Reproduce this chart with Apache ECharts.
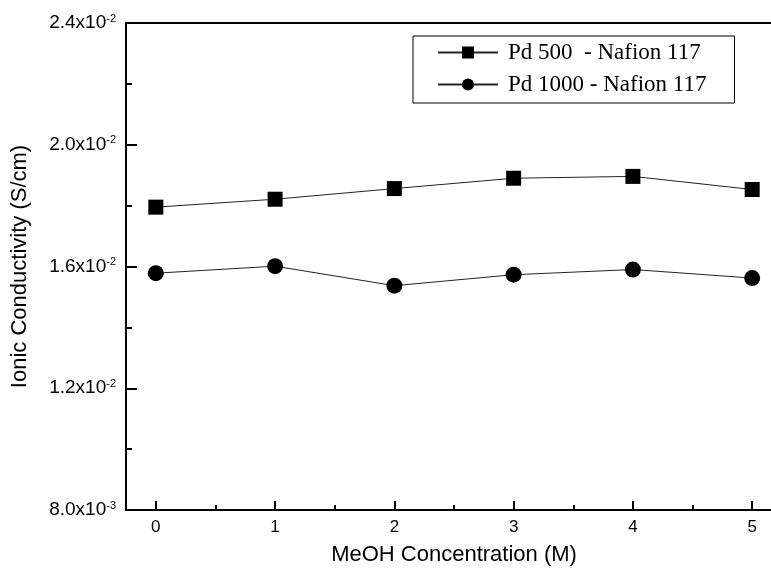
<!DOCTYPE html>
<html><head><meta charset="utf-8">
<script src="https://cdn.jsdelivr.net/npm/echarts@6/dist/echarts.min.js"></script>
<style>html,body{margin:0;padding:0;background:#fff}#c{width:771px;height:575px}</style>
</head><body><div id="c"></div>
<script>
const concentrations = [0, 1, 2, 3, 4, 5];
const pd500 = [0.01795, 0.01821, 0.01856, 0.0189, 0.01896, 0.01853];
const pd1000 = [0.01578, 0.01601, 0.01537, 0.01573, 0.0159, 0.01562];
const seriesNames = ['Pd 500  - Nafion 117', 'Pd 1000 - Nafion 117'];
const xMajorTicks = [0, 1, 2, 3, 4, 5];
const xMinorTicks = [0.5, 1.5, 2.5, 3.5, 4.5];

const chart = echarts.init(document.getElementById('c'));
function yFmt(v) {
  const e = Math.floor(Math.log10(v) + 1e-9);
  const m = v / Math.pow(10, e);
  return '{a|' + m.toFixed(1) + 'x10}{s|' + e + '}';
}
const sans = 'Liberation Sans, Arial, sans-serif';
chart.setOption({
  animation: false,
  grid: { left: 126, top: 23, bottom: 65, right: -11, show: true, borderColor: '#000', borderWidth: 2, outerBoundsMode: 'none' },
  legend: {
    orient: 'vertical', left: 413, top: 36,
    itemWidth: 60, itemHeight: 15, itemGap: 9,
    padding: [5, 28, 7, 24],
    borderColor: '#000', borderWidth: 1,
    textStyle: { fontFamily: 'Liberation Serif, Times New Roman, serif', fontSize: 23, color: '#000', padding: [0, 0, 0, 5] },
    data: seriesNames
  },
  xAxis: [{
    type: 'value', min: -0.25, max: 5.25,
    name: 'MeOH Concentration (M)', nameLocation: 'middle', nameGap: 34,
    nameTextStyle: { fontFamily: sans, fontSize: 22, color: '#000' },
    axisLine: { onZero: false, lineStyle: { color: '#000', width: 2 } },
    axisTick: { inside: true, length: 9, lineStyle: { width: 2, color: '#000' }, customValues: xMajorTicks },
    axisLabel: { customValues: xMajorTicks, fontFamily: sans, fontSize: 17, color: '#000', margin: 9 },
    splitLine: { show: false }
  }, {
    type: 'value', min: -0.25, max: 5.25, position: 'bottom',
    axisLine: { show: false, onZero: false },
    axisTick: { inside: true, length: 5, lineStyle: { width: 2, color: '#000' }, customValues: xMinorTicks },
    axisLabel: { show: false },
    splitLine: { show: false }
  }],
  yAxis: {
    type: 'value', min: 0.008, max: 0.024, interval: 0.004,
    name: 'Ionic Conductivity (S/cm)', nameLocation: 'middle', nameGap: 95,
    nameTextStyle: { fontFamily: sans, fontSize: 22, color: '#000' },
    axisLine: { show: true, onZero: false, lineStyle: { color: '#000', width: 2 } },
    axisTick: { inside: true, length: 11, lineStyle: { width: 2, color: '#000' } },
    minorTick: { show: true, splitNumber: 2, length: 6, lineStyle: { width: 2, color: '#000' } },
    axisLabel: {
      formatter: yFmt, margin: 10,
      rich: {
        a: { fontFamily: sans, fontSize: 19, color: '#000' },
        s: { fontFamily: sans, fontSize: 11, color: '#000', padding: [0, 0, 9, 0] }
      }
    },
    splitLine: { show: false }
  },
  series: [{
    name: seriesNames[0], type: 'line', xAxisIndex: 0,
    data: concentrations.map((x, i) => [x, pd500[i]]),
    symbol: 'rect', symbolSize: 15,
    lineStyle: { color: '#222', width: 1 },
    itemStyle: { color: '#000' }
  }, {
    name: seriesNames[1], type: 'line', xAxisIndex: 0,
    data: concentrations.map((x, i) => [x, pd1000[i]]),
    symbol: 'circle', symbolSize: 16,
    lineStyle: { color: '#222', width: 1 },
    itemStyle: { color: '#000' }
  }]
});
</script></body></html>
